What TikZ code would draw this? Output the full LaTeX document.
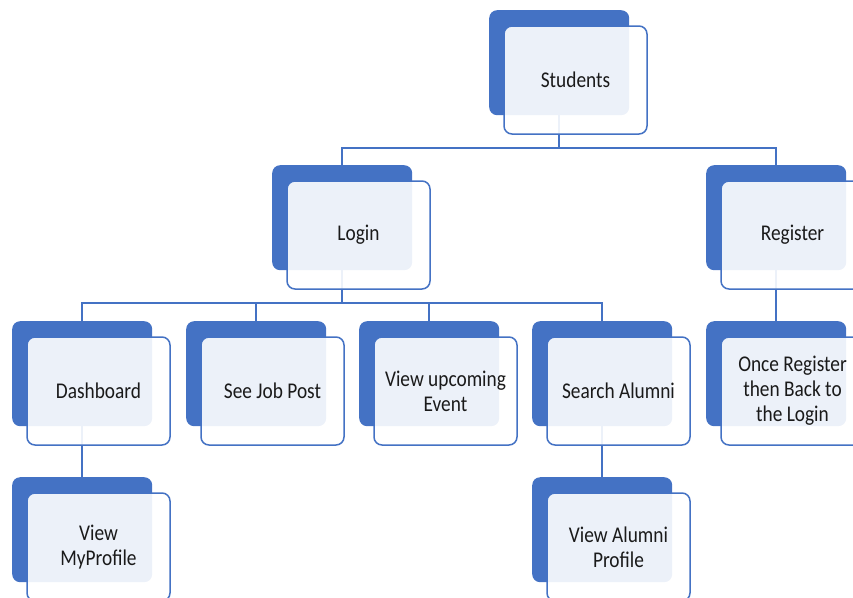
\documentclass[tikz,border=0pt]{standalone}
\usepackage{fontspec}
\setmainfont{Carlito}[FakeStretch=0.86]
\usetikzlibrary{calc}
\definecolor{accent}{HTML}{4472C4}
\definecolor{ink}{HTML}{1A1A1A}
\tikzset{
  backbox/.style={draw=none, fill=accent, rounded corners=8pt,
    minimum width=140pt, minimum height=105pt, anchor=north west, inner sep=0pt},
  frontbox/.style={draw=accent, line width=1.5pt, fill=white, fill opacity=0.9,
    text opacity=1, rounded corners=8pt, minimum width=143pt, minimum height=108pt,
    align=center, text=ink, inner sep=0pt,
    font=\fontsize{22.5pt}{25pt}\selectfont},
  link/.style={draw=accent, line width=2pt},
}
\newcommand{\orgbox}[4]{% name, x, y, label
  \node[backbox] (#1b) at (#2,#3) {};
  \node[frontbox] (#1) at ($(#1b.north west)+(86.5,70)$) {#4};
}
\begin{document}
\begin{tikzpicture}[x=1pt,y=-1pt]
\clip (0,0) rectangle (853,597);
% bus levels of the tree
\coordinate (busA) at (0,148);
\coordinate (busB) at (0,303);

% back plates (drawn first so the connectors sit on top of them only where visible)
\node[backbox] (studb) at (489,10) {};
\node[backbox] (loginb) at (272,165) {};
\node[backbox] (regb) at (706,165) {};
\node[backbox] (dashb) at (12,321) {};
\node[backbox] (jobb) at (186,321) {};
\node[backbox] (eventb) at (359,321) {};
\node[backbox] (searchb) at (532,321) {};
\node[backbox] (onceb) at (706,321) {};
\node[backbox] (myprofb) at (12,477) {};
\node[backbox] (alumb) at (532,477) {};

% connectors
\draw[link] (studb.south) -- (studb.south |- busA) -| (loginb.north);
\draw[link] (studb.south |- busA) -| (regb.north);
\draw[link] (loginb.south) -- (loginb.south |- busB) -| (dashb.north);
\draw[link] (loginb.south |- busB) -| (jobb.north);
\draw[link] (loginb.south |- busB) -| (eventb.north);
\draw[link] (loginb.south |- busB) -| (searchb.north);
\draw[link] (regb.south) -- (onceb.north);
\draw[link] (dashb.south) -- (myprofb.north);
\draw[link] (searchb.south) -- (alumb.north);

% front cards with labels
\node[frontbox] (stud) at ($(studb.north west)+(86.5,70)$) {Students};
\node[frontbox] (login) at ($(loginb.north west)+(86.5,70)$) {Login};
\node[frontbox] (reg) at ($(regb.north west)+(86.5,70)$) {Register};
\node[frontbox] (dash) at ($(dashb.north west)+(86.5,70)$) {Dashboard};
\node[frontbox] (job) at ($(jobb.north west)+(86.5,70)$) {See Job Post};
\node[frontbox] (event) at ($(eventb.north west)+(86.5,70)$) {View upcoming\\Event};
\node[frontbox] (search) at ($(searchb.north west)+(86.5,70)$) {Search Alumni};
\node[frontbox] (once) at ($(onceb.north west)+(86.5,70)$) {Once Register\\then Back to\\the Login};
\node[frontbox] (myprof) at ($(myprofb.north west)+(86.5,70)$) {View\\MyProfile};
\node[frontbox] (alum) at ($(alumb.north west)+(86.5,70)$) {View Alumni\\Profile};
\end{tikzpicture}
\end{document}
